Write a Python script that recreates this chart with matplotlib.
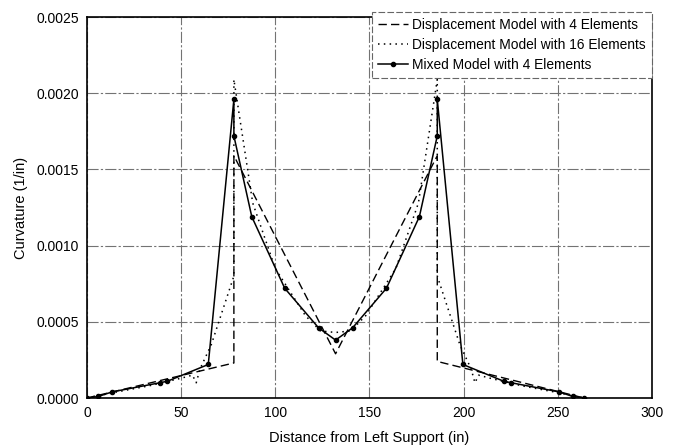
import matplotlib.pyplot as plt

plt.rcParams['font.family'] = ['Liberation Sans', 'DejaVu Sans']

# displacement model, 4 elements
x_d4 = [0, 78, 78, 132, 186, 186, 264]
k_d4 = [0, 0.00023, 0.00159, 0.00029, 0.00159, 0.00024, 0]

# displacement model, 16 elements
x_d16 = [0, 16, 33, 50, 56, 58, 60, 66, 78, 78, 88, 100, 116, 124, 132,
         140, 148, 164, 176, 186, 186, 198, 204, 206, 208, 214, 231, 248, 264]
k_d16 = [0, 0.00004, 0.00008, 0.00013, 0.00015, 0.00010, 0.00019, 0.00035, 0.00080,
         0.00209, 0.00128, 0.00085, 0.00054, 0.00044, 0.00043,
         0.00044, 0.00054, 0.00085, 0.00128, 0.00209, 0.00080, 0.00035, 0.00019,
         0.00010, 0.00015, 0.00013, 0.00008, 0.00004, 0]

# mixed model, 4 elements
x_mx = [0, 6, 13.3, 38.7, 42.7, 64.4, 78, 78, 87.5, 105, 123, 132,
        141, 159, 176.5, 186, 186, 199.6, 221.3, 225.3, 250.7, 258, 264]
k_mx = [0, 0.00001, 0.00004, 0.00010, 0.00011, 0.00022, 0.00196, 0.00172, 0.00119,
        0.00072, 0.00046, 0.00038, 0.00046, 0.00072, 0.00119, 0.00172, 0.00196,
        0.00022, 0.00011, 0.00010, 0.00004, 0.00001, 0]

fig = plt.figure(figsize=(6.77, 4.48), dpi=100)
ax = fig.add_axes([0.1285, 0.1116, 0.8345, 0.8504])

ax.plot(x_d4, k_d4, color='black', linestyle=(0, (6, 3)), linewidth=1.0,
        label='Displacement Model with 4 Elements')
ax.plot(x_d16, k_d16, color='black', linestyle=(0, (1, 2.8)), linewidth=1.1,
        label='Displacement Model with 16 Elements')
ax.plot(x_mx, k_mx, color='black', linestyle='-', linewidth=1.1, marker='o',
        markersize=3, label='Mixed Model with 4 Elements')

ax.set_xlim(0, 300)
ax.set_ylim(0, 0.0025)
ax.set_xticks([0, 50, 100, 150, 200, 250, 300])
ax.set_yticks([0, 0.0005, 0.0010, 0.0015, 0.0020, 0.0025])
ax.set_yticklabels(['0.0000', '0.0005', '0.0010', '0.0015', '0.0020', '0.0025'])
ax.tick_params(length=0, labelsize=10, pad=6)
ax.grid(True, color='0.45', linestyle=(0, (10, 2, 2, 2)), linewidth=0.8)
ax.set_axisbelow(True)
for s in ax.spines.values():
    s.set_linewidth(1.2)

ax.set_xlabel('Distance from Left Support (in)', fontsize=10.5, labelpad=8)
ax.set_ylabel('Curvature (1/in)', fontsize=10.5, labelpad=6)

leg = ax.legend(loc='upper right', bbox_to_anchor=(1.0, 1.013), fontsize=9.9,
                handlelength=2.2, handletextpad=0.3, borderaxespad=0,
                borderpad=0.45, fancybox=False, framealpha=1, edgecolor='0.4',
                labelspacing=0.42)
leg.get_frame().set_linestyle((0, (6, 2)))
leg.get_frame().set_linewidth(0.8)

fig.savefig('out.png', dpi=100)
